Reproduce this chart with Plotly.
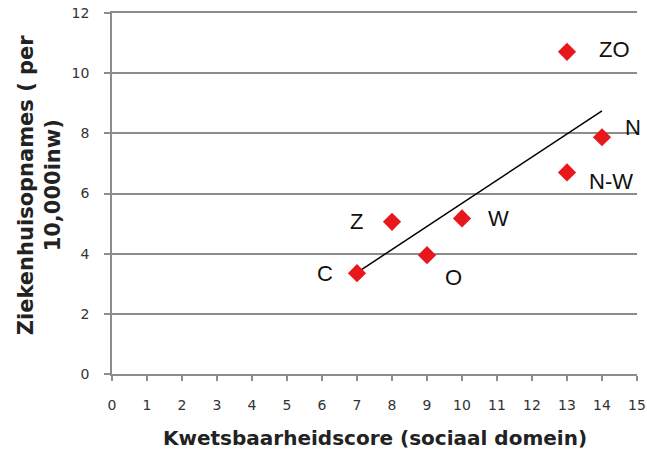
import plotly.graph_objects as go

regions = ["C", "Z", "O", "W", "N-W", "ZO", "N"]
score = [7, 8, 9, 10, 13, 13, 14]
admissions = [3.35, 5.06, 3.95, 5.17, 6.70, 10.71, 7.87]

# label offsets from the marker centre, in pixels (style, not data)
label_dx = [-32, -36, 26, 36, 44, 47, 31]
label_dy = [0, 0, -22, 0, -9, 2, 10]

trend_x = [7, 14]
trend_y = [3.37, 8.75]

x_ticks = list(range(0, 16))
y_ticks = [0, 2, 4, 6, 8, 10, 12]

fig = go.Figure()
fig.add_trace(go.Scatter(
    x=trend_x, y=trend_y, mode="lines",
    line=dict(color="black", width=1.5), showlegend=False, hoverinfo="skip"))
fig.add_trace(go.Scatter(
    x=score, y=admissions, mode="markers",
    marker=dict(symbol="diamond", size=14, color="#e8171c"),
    showlegend=False))

for name, xv, yv, dx, dy in zip(regions, score, admissions, label_dx, label_dy):
    fig.add_annotation(
        x=xv, y=yv, text=name, showarrow=False,
        xanchor="center", yanchor="middle", xshift=dx, yshift=dy,
        font=dict(family="Liberation Sans, Arial, sans-serif", size=22, color="#111111"))

tick_font = "DejaVu Sans, sans-serif"
title_font = "DejaVu Sans, sans-serif"

fig.update_layout(
    width=647, height=456,
    margin=dict(l=112, r=10, t=13, b=82),
    paper_bgcolor="white", plot_bgcolor="white",
    xaxis=dict(
        range=[0, 15], tickvals=x_ticks, ticktext=[str(v) for v in x_ticks],
        showgrid=False, zeroline=False, showline=True, mirror=True,
        linecolor="#8c8c8c", linewidth=1.5,
        ticks="outside", ticklen=5, tickcolor="#8c8c8c", tickwidth=1.5,
        tickfont=dict(family=tick_font, size=14, color="#333333"),
        ticklabelstandoff=12, ticklabeloverflow="allow", automargin=False,
    ),
    yaxis=dict(
        range=[0, 12], tickvals=y_ticks,
        showgrid=True, gridcolor="#8c8c8c", gridwidth=1.5,
        zeroline=False, showline=True, linecolor="#8c8c8c", linewidth=1.5,
        ticks="outside", ticklen=6, tickcolor="#8c8c8c", tickwidth=1.5,
        tickfont=dict(family=tick_font, size=14, color="#333333"),
        ticklabelstandoff=12, ticklabeloverflow="allow", automargin=False,
    ),
)

fig.add_annotation(
    xref="paper", yref="paper", x=0.5, y=-0.177,
    text="<b>Kwetsbaarheidscore (sociaal domein)</b>", showarrow=False,
    xanchor="center", yanchor="middle",
    font=dict(family=title_font, size=20, color="#222222"))
fig.add_annotation(
    xref="paper", yref="paper", x=-0.139, y=0.523,
    text="<b>Ziekenhuisopnames ( per<br>10,000inw)</b>", showarrow=False,
    textangle=-90, xanchor="center", yanchor="middle",
    font=dict(family=title_font, size=21, color="#222222"))

# remove the default 8px page margin so the figure fills the window exactly
fig.write_html("out.html", config={"displayModeBar": False},
               post_script="document.body.style.margin='0';")
